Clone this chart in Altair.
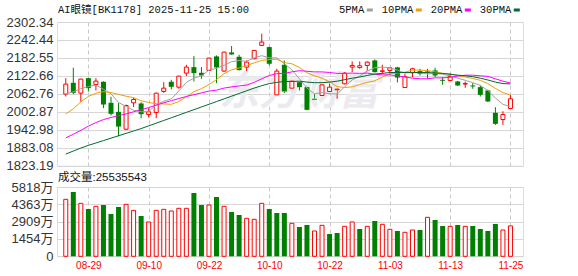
import altair as alt
import pandas as pd

# ---------------- data ----------------
title_text = "AI眼镜[BK1178] 2025-11-25 15:00"
volume_title = "成交量:25535543"
watermark_text = "东方财富"

dates = ["08-26", "08-27", "08-28", "08-29", "09-01", "09-02", "09-03", "09-04", "09-05", "09-08",
         "09-09", "09-10", "09-11", "09-12", "09-15", "09-16", "09-17", "09-18", "09-19", "09-22",
         "09-23", "09-24", "09-25", "09-26", "09-29", "09-30", "10-09", "10-10", "10-13", "10-14",
         "10-15", "10-16", "10-17", "10-20", "10-21", "10-22", "10-23", "10-24", "10-27", "10-28",
         "10-29", "10-30", "10-31", "11-03", "11-04", "11-05", "11-06", "11-07", "11-10", "11-11",
         "11-12", "11-13", "11-14", "11-17", "11-18", "11-19", "11-20", "11-21", "11-24", "11-25"]

opens = [2061.8, 2099.6, 2065.1, 2115.2, 2094.0, 2103.0, 2032.8, 2002.8, 1944.9, 2032.8,
         2030.6, 1993.8, 2000.5, 2070.7, 2103.0, 2085.1, 2131.9, 2151.9, 2133.0, 2140.8,
         2187.6, 2138.6, 2200.9, 2186.4, 2151.9, 2179.8, 2224.3, 2218.7, 2059.5, 2159.7,
         2081.8, 2101.8, 2085.1, 2046.2, 2057.3, 2070.7, 2076.2, 2096.3, 2152.0, 2150.8,
         2157.5, 2174.2, 2137.5, 2140.8, 2151.0, 2084.0, 2133.0, 2138.6, 2137.5, 2140.8,
         2109.6, 2107.4, 2104.1, 2095.2, 2090.7, 2085.1, 2074.0, 1999.6, 1977.1, 2013.9]
highs = [2115.2, 2149.7, 2113.0, 2117.0, 2115.2, 2104.5, 2052.8, 2031.7, 2027.0, 2050.0,
         2035.0, 2015.0, 2066.5, 2101.8, 2109.6, 2123.0, 2159.7, 2188.7, 2151.9, 2183.0,
         2190.9, 2203.0, 2222.1, 2193.1, 2174.2, 2209.0, 2263.3, 2220.0, 2146.4, 2174.2,
         2113.0, 2109.6, 2090.7, 2062.9, 2094.0, 2101.8, 2081.8, 2135.2, 2170.9, 2170.9,
         2170.9, 2177.5, 2159.7, 2151.9, 2153.0, 2130.0, 2149.7, 2146.4, 2146.4, 2149.7,
         2118.5, 2131.9, 2106.0, 2104.1, 2098.5, 2090.7, 2076.2, 2018.3, 2005.0, 2059.5]
lows = [2054.0, 2061.8, 2036.1, 2070.6, 2074.0, 2015.0, 1990.5, 1921.5, 1942.0, 2018.4,
        1981.6, 1983.8, 1981.6, 2066.2, 2077.3, 2079.6, 2121.9, 2104.1, 2113.0, 2140.0,
        2098.5, 2137.0, 2193.1, 2140.8, 2137.5, 2178.0, 2222.1, 2157.5, 2057.3, 2065.1,
        2051.7, 2074.0, 2008.0, 2027.2, 2048.4, 2062.9, 2046.2, 2094.0, 2135.2, 2146.4,
        2137.5, 2134.0, 2129.7, 2126.3, 2101.0, 2083.0, 2118.5, 2124.1, 2113.0, 2118.5,
        2092.9, 2105.2, 2089.0, 2082.9, 2079.6, 2054.0, 2036.0, 1959.3, 1959.3, 2013.0]
closes = [2095.2, 2066.2, 2111.9, 2081.8, 2105.2, 2027.2, 1996.1, 1953.8, 2023.9, 2044.0,
          1995.0, 2002.8, 2065.1, 2081.8, 2086.2, 2121.9, 2151.9, 2131.9, 2124.1, 2182.0,
          2150.8, 2202.0, 2194.2, 2141.9, 2168.6, 2207.6, 2235.4, 2163.1, 2138.6, 2070.6,
          2105.2, 2085.1, 2009.4, 2042.8, 2092.9, 2085.1, 2078.5, 2131.9, 2157.5, 2156.5,
          2168.6, 2135.2, 2139.7, 2149.7, 2117.0, 2120.0, 2146.4, 2129.7, 2134.1, 2124.1,
          2106.3, 2120.8, 2090.7, 2097.4, 2087.4, 2059.5, 2037.3, 1962.7, 1993.8, 2046.2]
# volume in 万
volumes = [4783, 5398, 4447, 3972, 4196, 4307, 3552, 4140, 4363, 3860,
           3384, 2881, 3860, 3944, 3804, 4028, 4028, 5314, 4307, 4307,
           4979, 4196, 3720, 3468, 3189, 3105, 4447, 3972, 3636, 3636,
           2769, 2461, 2629, 2126, 2601, 1874, 1958, 2517, 2881, 2294,
           2517, 2965, 2685, 2266, 2126, 2014, 2210, 2210, 3272, 3049,
           2545, 2517, 2629, 2517, 2545, 2294, 2126, 2713, 2210, 2553.55]

ma5 = [2062, 2070, 2080, 2087, 2092, 2078, 2063, 2034, 2021, 2008,
       2003, 2004, 2026, 2038, 2046, 2072, 2101, 2115, 2123, 2142,
       2148, 2158, 2170, 2174, 2171, 2183, 2190, 2183, 2183, 2163,
       2143, 2113, 2082, 2063, 2067, 2063, 2062, 2086, 2109, 2122,
       2139, 2150, 2152, 2150, 2142, 2132, 2135, 2133, 2129, 2131,
       2128, 2123, 2115, 2108, 2100, 2091, 2074, 2049, 2028, 2020]
ma10 = [1996, 2013, 2036, 2054, 2065, 2070, 2067, 2061, 2055, 2050,
        2040, 2034, 2030, 2029, 2028, 2037, 2053, 2070, 2080, 2094,
        2110, 2130, 2143, 2149, 2157, 2166, 2174, 2177, 2178, 2167,
        2163, 2151, 2133, 2123, 2115, 2103, 2087, 2084, 2086, 2094,
        2101, 2106, 2119, 2130, 2132, 2135, 2142, 2142, 2140, 2136,
        2131, 2129, 2124, 2119, 2114, 2108, 2097, 2081, 2067, 2059]
ma20 = [1916, 1928, 1941, 1955, 1967, 1977, 1984, 1990, 1996, 2003,
        2010, 2017, 2025, 2033, 2040, 2047, 2054, 2060, 2066, 2072,
        2075, 2082, 2086, 2089, 2092, 2101, 2113, 2124, 2130, 2131,
        2136, 2140, 2138, 2136, 2136, 2134, 2131, 2131, 2132, 2131,
        2132, 2128, 2126, 2126, 2123, 2119, 2115, 2113, 2113, 2116,
        2116, 2118, 2122, 2125, 2125, 2123, 2121, 2113, 2105, 2099]
ma30 = [1862, 1872, 1882, 1891, 1899, 1907, 1915, 1923, 1931, 1939,
        1947, 1956, 1965, 1974, 1983, 1992, 2001, 2010, 2019, 2028,
        2037, 2046, 2055, 2064, 2073, 2082, 2090, 2097, 2101, 2104,
        2104, 2105, 2102, 2100, 2100, 2102, 2105, 2110, 2115, 2119,
        2124, 2129, 2131, 2134, 2134, 2134, 2134, 2134, 2134, 2132,
        2131, 2128, 2125, 2123, 2120, 2115, 2109, 2102, 2097, 2096]
ma_names = ["5PMA", "10PMA", "20PMA", "30PMA"]

price_ticks = [1823.19, 1883.08, 1942.98, 2002.87, 2062.76, 2122.66, 2182.55, 2242.44, 2302.34]
vol_ticks = [0, 1454.5, 2909, 4363.5, 5818]
date_tick_idx = [3, 11, 19, 27, 35, 43, 51, 59]

# ---------------- styles ----------------
RED = "#ff0000"
GREEN = "#008000"
MA_COLORS = ["#a0a0a0", "#f0a000", "#ff00ff", "#006a35"]
GRID = "#d6d6d6"
VGRID = "#c8c8c8"
FRAME = "#9a9a9a"
LABEL = "#333333"
MONO = "Liberation Mono, Noto Sans CJK SC"
SANS = "Liberation Sans, Noto Sans CJK SC"
W, H1, H2 = 466, 143.7, 69.3

n = len(dates)
df = pd.DataFrame({"idx": list(range(n)), "date": dates, "open": opens, "high": highs,
                   "low": lows, "close": closes, "vol": volumes})
df["dir"] = ["up" if c >= o else "down" for o, c in zip(opens, closes)]
prev = [opens[0]] + closes[:-1]
df["vdir"] = ["up" if c >= p else "down" for c, p in zip(closes, prev)]

ma_df = pd.concat([
    pd.DataFrame({"idx": list(range(n)), "series": name, "value": vals})
    for name, vals in zip(ma_names, [ma5, ma10, ma20, ma30])
])

x_scale = alt.Scale(domain=[-0.5, 60.0], nice=False, zero=False)
label_expr = "[" + ",".join("'%s'" % d for d in dates) + "][datum.value]"

x_main = alt.X("idx:Q", scale=x_scale, title=None,
               axis=alt.Axis(values=date_tick_idx, labels=False, ticks=False, domain=False,
                             grid=True, gridDash=[4, 3], gridColor=VGRID, title=None))
x_vol = alt.X("idx:Q", scale=x_scale, title=None,
              axis=alt.Axis(values=date_tick_idx, labelExpr=label_expr, labelColor=RED,
                            labelFont="Liberation Sans", labelFontSize=10, labelPadding=4,
                            labelFlush=False, labelOverlap=False, ticks=False, domain=False,
                            grid=True, gridDash=[4, 3], gridColor=VGRID, title=None))

y_scale = alt.Scale(domain=[price_ticks[0], price_ticks[-1]], nice=False, zero=False)
y_axis = alt.Axis(values=price_ticks, format=".2f", labelFont="Liberation Sans", labelFontSize=13,
                  labelColor=LABEL, labelPadding=4, ticks=False, domain=False, grid=True,
                  gridColor=GRID, labelOverlap=False, labelFlush=False, title=None)

base = alt.Chart(df)
up = base.transform_filter("datum.dir == 'up'")
down = base.transform_filter("datum.dir == 'down'")

wicks_up = up.mark_rule(strokeWidth=1, color=RED).encode(
    x=x_main, y=alt.Y("low:Q", scale=y_scale, axis=y_axis, title=None), y2="high:Q")
wicks_down = down.mark_rule(strokeWidth=1, color=GREEN).encode(
    x=x_main, y=alt.Y("low:Q", scale=y_scale, axis=y_axis, title=None), y2="high:Q")
bodies_up = up.mark_bar(size=4, fill="white", stroke=RED, strokeWidth=1).encode(
    x=x_main, y=alt.Y("open:Q", scale=y_scale, axis=y_axis, title=None), y2="close:Q")
bodies_down = down.mark_bar(size=5, color=GREEN).encode(
    x=x_main, y=alt.Y("open:Q", scale=y_scale, axis=y_axis, title=None), y2="close:Q")

ma_lines = alt.Chart(ma_df).mark_line(strokeWidth=1).encode(
    x=x_main,
    y=alt.Y("value:Q", scale=y_scale, axis=y_axis, title=None),
    color=alt.Color("series:N", scale=alt.Scale(domain=ma_names, range=MA_COLORS), legend=None),
    detail="series:N",
)

def text_layer(txt, x, y, **kw):
    return alt.Chart(pd.DataFrame({"t": [txt]})).mark_text(**kw).encode(
        text="t:N", x=alt.value(x), y=alt.value(y))

watermark = text_layer(watermark_text, 242, 71, font="Noto Sans CJK SC", fontSize=40,
                       fontWeight="bold", fontStyle="italic", color="#ebebef", align="center",
                       baseline="middle")
title = text_layer(title_text, 1, -12, font=MONO, fontSize=10.5, color="#111111",
                   align="left", baseline="middle")

legend_layers = []
lx = 282
for name, col in zip(ma_names, MA_COLORS):
    legend_layers.append(text_layer(name, lx, -12, font=MONO, fontSize=10.5, color="#111111",
                                    align="left", baseline="middle"))
    sx = lx + len(name) * 6.2 + 3
    legend_layers.append(
        alt.Chart(pd.DataFrame({"c": [col]})).mark_rule(strokeWidth=3, color=col).encode(
            x=alt.value(sx), x2=alt.value(sx + 6), y=alt.value(-12)))
    lx = sx + 15

main = alt.layer(wicks_up, wicks_down, watermark, bodies_up, bodies_down, ma_lines, title,
                 *legend_layers).properties(width=W, height=H1)

vy_scale = alt.Scale(domain=[0, vol_ticks[-1]], nice=False, zero=True)
vy_axis = alt.Axis(values=vol_ticks, labelExpr="datum.value == 0 ? '0' : floor(datum.value) + '万'",
                   labelFont=SANS, labelFontSize=13, labelColor=LABEL, labelPadding=4, ticks=False,
                   domain=False, grid=True, gridColor=GRID, labelOverlap=False, labelFlush=False,
                   title=None)

vol_up = base.transform_filter("datum.vdir == 'up'").mark_bar(
    size=4, fill="white", stroke=RED, strokeWidth=1).encode(
    x=x_vol, y=alt.Y("vol:Q", scale=vy_scale, axis=vy_axis, title=None))
vol_down = base.transform_filter("datum.vdir == 'down'").mark_bar(
    size=5, color=GREEN).encode(
    x=x_vol, y=alt.Y("vol:Q", scale=vy_scale, axis=vy_axis, title=None))
vol_title = text_layer(volume_title, 1, -9, font=SANS, fontSize=11.5, color="#111111",
                       align="left", baseline="middle")

volume = alt.layer(vol_up, vol_down, vol_title).properties(width=W, height=H2)

chart = alt.vconcat(main, volume, spacing=21, bounds="flush").properties(
    padding={"left": 5, "top": 4, "right": 5, "bottom": 5},
).configure_view(stroke=FRAME, strokeWidth=1.5).configure(background="white")

chart.save("out.html", embed_options={"renderer": "svg", "actions": False})
